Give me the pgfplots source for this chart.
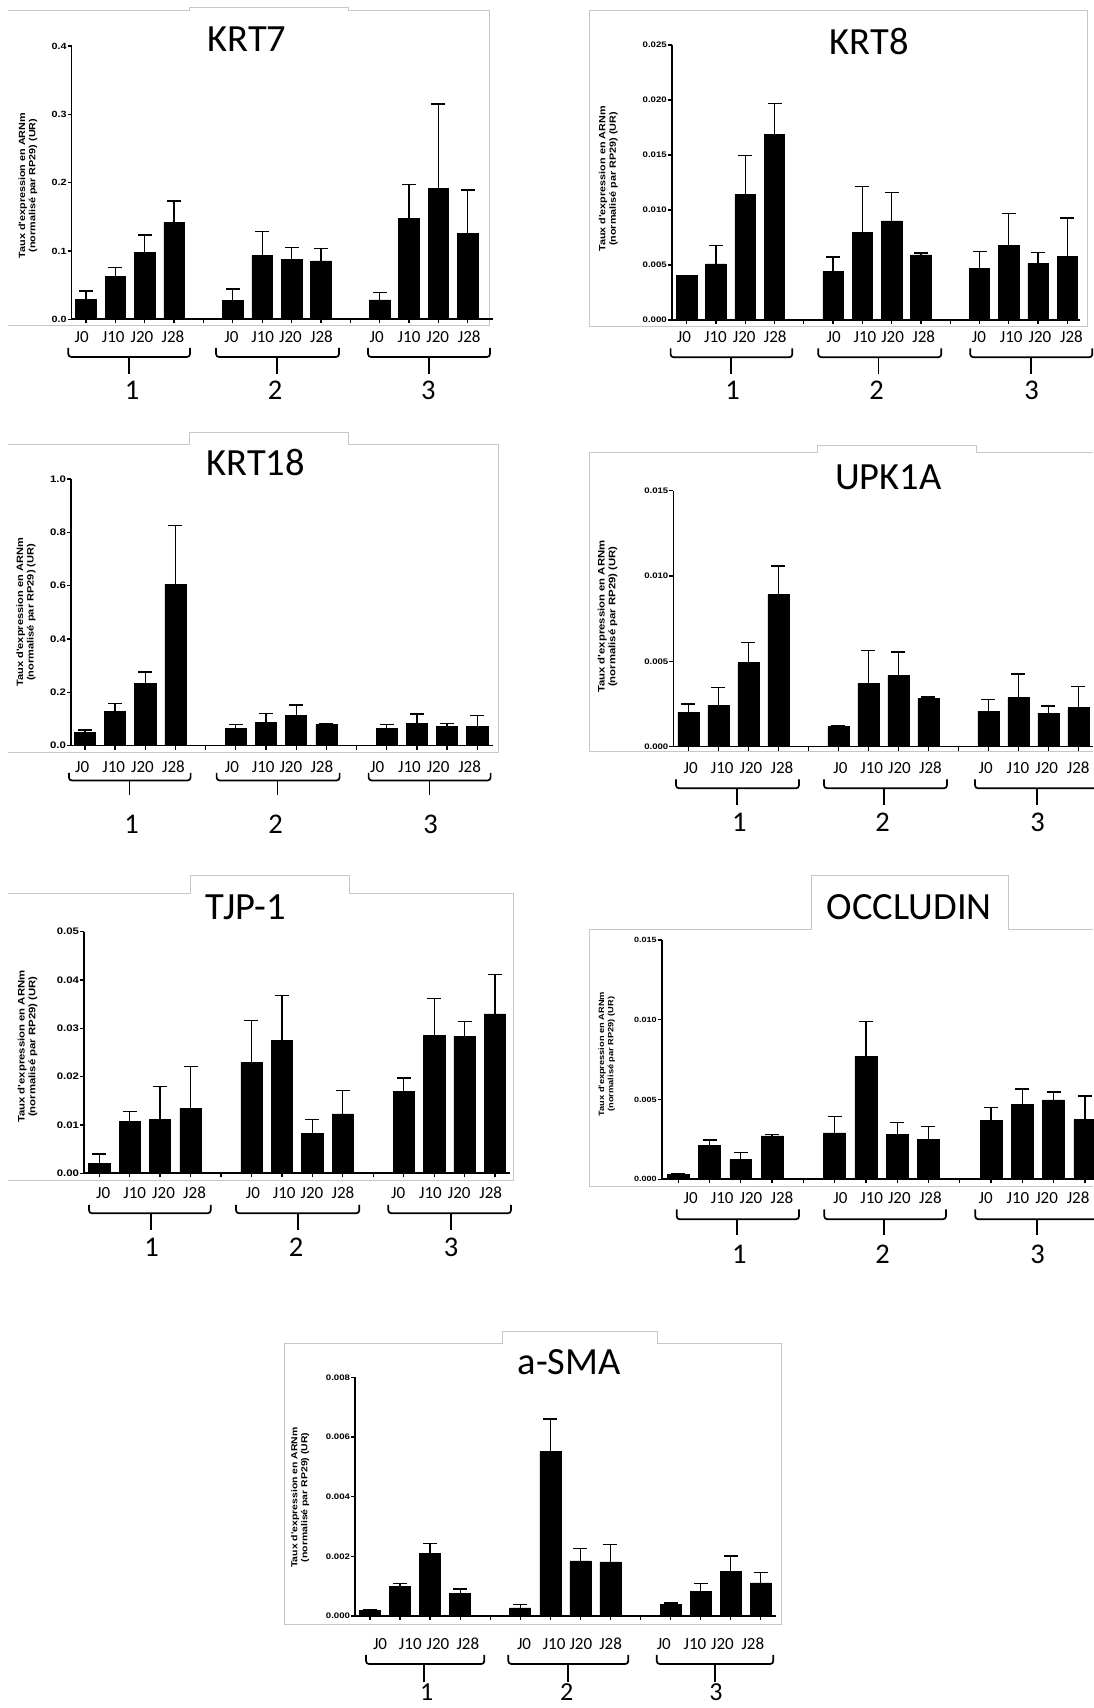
\documentclass[border=0pt]{standalone}
\usepackage{pgfplots}
\pgfplotsset{compat=1.18}
\usepackage{pgfplotstable}
\usepackage{fontspec}
\setmainfont{Carlito}
\newfontfamily\arb{Liberation Sans}[FakeStretch=1.2]

\pgfplotstableread[row sep=\\]{
x y e\\
0 0.0293 0.0122\\
1 0.0629 0.0127\\
2 0.0980 0.0254\\
3 0.1415 0.0317\\
5 0.0273 0.0171\\
6 0.0937 0.0351\\
7 0.0873 0.0181\\
8 0.0854 0.0185\\
10 0.0283 0.0112\\
11 0.1473 0.0503\\
12 0.1912 0.1239\\
13 0.1259 0.0634\\
}\krtseven
\pgfplotstableread[row sep=\\]{
x y e\\
0 0.00403 0\\
1 0.00509 0.00167\\
2 0.01139 0.00355\\
3 0.01685 0.00282\\
5 0.00439 0.00134\\
6 0.00794 0.00421\\
7 0.00900 0.00258\\
8 0.00591 0.00018\\
10 0.00467 0.00154\\
11 0.00679 0.00291\\
12 0.00518 0.00097\\
13 0.00576 0.00351\\
}\krteight
\pgfplotstableread[row sep=\\]{
x y e\\
0 0.050 0.009\\
1 0.129 0.0285\\
2 0.2325 0.0435\\
3 0.604 0.222\\
5 0.065 0.014\\
6 0.086 0.035\\
7 0.114 0.0385\\
8 0.080 0.002\\
10 0.065 0.014\\
11 0.084 0.035\\
12 0.0725 0.0115\\
13 0.0725 0.0415\\
}\krteighteen
\pgfplotstableread[row sep=\\]{
x y e\\
0 0.00201 0.00049\\
1 0.00244 0.00102\\
2 0.00494 0.00117\\
3 0.00890 0.00169\\
5 0.00119 0.00006\\
6 0.00369 0.00194\\
7 0.00418 0.00137\\
8 0.00281 0.00010\\
10 0.00209 0.00066\\
11 0.00289 0.00137\\
12 0.00197 0.00041\\
13 0.00228 0.00123\\
}\upk
\pgfplotstableread[row sep=\\]{
x y e\\
0 0.0020 0.0020\\
1 0.0107 0.0021\\
2 0.0111 0.0068\\
3 0.01345 0.00865\\
5 0.0229 0.0087\\
6 0.02745 0.00935\\
7 0.0082 0.0030\\
8 0.01228 0.00489\\
10 0.01697 0.00275\\
11 0.02848 0.00766\\
12 0.02834 0.00311\\
13 0.03297 0.0082\\
}\tjp
\pgfplotstableread[row sep=\\]{
x y e\\
0 0.00031 0.00007\\
1 0.00211 0.00036\\
2 0.00127 0.00040\\
3 0.00272 0.00010\\
5 0.00291 0.00103\\
6 0.00771 0.00218\\
7 0.00281 0.00073\\
8 0.00252 0.00081\\
10 0.00371 0.00077\\
11 0.00469 0.00097\\
12 0.00498 0.00050\\
13 0.00373 0.00150\\
}\occ
\pgfplotstableread[row sep=\\]{
x y e\\
0 0.00018 0.00003\\
1 0.00100 0.00008\\
2 0.00209 0.00033\\
3 0.00076 0.00014\\
5 0.00027 0.00012\\
6 0.00552 0.00108\\
7 0.00185 0.00042\\
8 0.00181 0.00059\\
10 0.00038 0.00006\\
11 0.00083 0.00027\\
12 0.00149 0.00052\\
13 0.00111 0.00034\\
}\sma

\pgfplotsset{
  panel/.style={
    scale only axis, anchor=south west, clip=false,
    axis lines=left, axis line style={line width=1.6pt,-},
    tick style={black, line width=1.3pt},
    major tick length=4pt, tick align=outside,
    xtick={0,...,13}, xticklabels={},
    ymin=0, scaled y ticks=false,
    yticklabel style={inner sep=0.8pt,
      /pgf/number format/fixed, /pgf/number format/fixed zerofill,
      /pgf/number format/assume math mode=true},
    extra x tick style={major tick length=0pt,
      tick label style={font=\fontsize{17}{18}\selectfont, anchor=base}},
    extra x tick labels={J0,J10,J20,J28,J0,J10,J20,J28,J0,J10,J20,J28},
    ylabel={Taux d'expression en ARNm\\(normalisé par RP29) (UR)},
  },
  mybars/.style={ybar, bar shift=0pt, bar width=0.7, fill=black, draw=black, line width=0.6pt,
    error bars/.cd, y dir=plus, y explicit,
    error bar style={line width=1.3pt, black},
    error mark options={rotate=90, mark size=7pt, line width=1.3pt, black}},
}
\newcommand\Brace[6]{%
  \draw[line width=1.7pt, rounded corners=3pt] (#1,1708-#4) -- (#1,1708-#5) -- (#2,1708-#5) -- (#2,1708-#4);
  \draw[line width=1.7pt] (#3,1708-#5) -- (#3,1708-#6);}
\newcommand\Title[3]{\node[anchor=base, font=\fontsize{38.5}{40}\selectfont] at (#1,1708-#2) {#3};}
\newcommand\Num[3]{\node[anchor=base, inner sep=0pt, font=\fontsize{28.5}{30}\selectfont] at (#1,1708-#2) {#3};}
\newcommand\NumS[3]{\node[anchor=base, inner sep=0pt, font=\fontsize{26}{27}\selectfont] at (#1,1708-#2) {#3};}

\begin{document}
\begin{tikzpicture}[x=1pt,y=1pt]
\useasboundingbox (0,0) rectangle (1093,1708);
% light grey frames
\begin{scope}[black!22, line width=0.9pt]
\draw (8,1708-10) -- (189,1708-10) -- (189,1708-7) -- (348,1708-7) -- (348,1708-10) -- (489,1708-10) -- (489,1708-325) -- (8,1708-325);
\draw (589,1708-10.7) rectangle (1087,1708-326);
\draw (8,1708-444) -- (189,1708-444) -- (189,1708-432.7) -- (348,1708-432.7) -- (348,1708-444) -- (498,1708-444) -- (498,1708-752) -- (8,1708-752);
\draw (1093,1708-452.7) -- (976.7,1708-452.7) -- (976.7,1708-445) -- (817,1708-445) -- (817,1708-452.7) -- (589,1708-452.7) -- (589,1708-751.7) -- (1093,1708-751.7);
\draw (8,1708-893.3) -- (190.7,1708-893.3) -- (190.7,1708-875.7) -- (349,1708-875.7) -- (349,1708-893.3) -- (513,1708-893.3) -- (513,1708-1180) -- (8,1708-1180);
\draw (1093,1708-929.3) -- (1008.3,1708-929.3) -- (1008.3,1708-875) -- (811.7,1708-875) -- (811.7,1708-929.3) -- (589,1708-929.3) -- (589,1708-1186) -- (1093,1708-1186);
\draw (284,1708-1343.3) -- (502.7,1708-1343.3) -- (502.7,1708-1331) -- (657.3,1708-1331) -- (657.3,1708-1343.3) -- (781.7,1708-1343.3) -- (781.7,1708-1624) -- (284,1708-1624) -- cycle;
\end{scope}

% KRT7
\begin{axis}[panel, at={(71.7pt,1388.7pt)}, width=421.3pt, height=273.3pt,
  xmin=-0.487, xmax=13.86, ymax=0.4, ytick={0,0.1,0.2,0.3,0.4},
  yticklabel style={font=\arb\bfseries\fontsize{9}{10}\selectfont, /pgf/number format/precision=1},
  extra x ticks={-0.146,0.926,1.907,2.963,4.952,6.018,6.962,8.018,9.901,11.001,11.979,13.052},
  extra x tick style={tick label style={yshift=-23pt}},
  every axis y label/.style={at={(axis description cs:0,0.5)}, xshift=-43.7pt, yshift=-2.9pt, rotate=90, anchor=center, align=center, font=\arb\bfseries\fontsize{9}{10.3}\selectfont}]
\addplot[mybars] table[x=x,y=y,y error=e]{\krtseven};
\end{axis}

% KRT8
\begin{axis}[panel, at={(671.7pt,1388pt)}, width=408.3pt, height=275pt,
  xmin=-0.51, xmax=13.43, ymax=0.025, ytick={0,0.005,0.01,0.015,0.02,0.025},
  yticklabel style={font=\arb\bfseries\fontsize{8}{9}\selectfont, /pgf/number format/precision=3},
  extra x ticks={-0.092,0.983,1.967,3.025,5.019,6.087,7.033,8.092,9.980,11.082,12.062,13.138},
  extra x tick style={tick label style={yshift=-22.3pt}},
  every axis y label/.style={at={(axis description cs:0,0.5)}, xshift=-63.4pt, yshift=3.5pt, rotate=90, anchor=center, align=center, font=\arb\bfseries\fontsize{9}{10.3}\selectfont}]
\addplot[mybars] table[x=x,y=y,y error=e]{\krteight};
\end{axis}

% KRT18
\begin{axis}[panel, at={(71pt,962.3pt)}, width=422.3pt, height=266.7pt,
  xmin=-0.46, xmax=13.53, ymax=1, ytick={0,0.2,0.4,0.6,0.8,1},
  yticklabel style={font=\arb\bfseries\fontsize{9.5}{10}\selectfont, /pgf/number format/precision=1},
  extra x ticks={-0.089,0.954,1.908,2.935,4.869,5.906,6.823,7.850,9.682,10.752,11.702,12.746},
  extra x tick style={tick label style={yshift=-26.6pt}},
  every axis y label/.style={at={(axis description cs:0,0.5)}, xshift=-45pt, yshift=0pt, rotate=90, anchor=center, align=center, font=\arb\bfseries\fontsize{9.2}{10.5}\selectfont}]
\addplot[mybars] table[x=x,y=y,y error=e]{\krteighteen};
\end{axis}

% UPK1A
\begin{axis}[panel, at={(673.3pt,961.3pt)}, width=419.7pt, height=256pt,
  xmin=-0.5, xmax=13.49, ymax=0.015, ytick={0,0.005,0.01,0.015},
  yticklabel style={font=\arb\bfseries\fontsize{8}{9}\selectfont, /pgf/number format/precision=3},
  extra x ticks={0.08,1.13,2.09,3.123,5.07,6.113,7.037,8.07,9.913,10.99,11.947,12.997},
  extra x tick style={tick label style={yshift=-26.6pt}},
  every axis y label/.style={at={(axis description cs:0,0.5)}, xshift=-65.8pt, yshift=2pt, rotate=90, anchor=center, align=center, font=\arb\bfseries\fontsize{9.45}{10.8}\selectfont}]
\addplot[mybars] table[x=x,y=y,y error=e]{\upk};
\end{axis}

% TJP-1
\begin{axis}[panel, at={(84pt,534.7pt)}, width=426pt, height=241.6pt,
  xmin=-0.5, xmax=13.49, ymax=0.05, ytick={0,0.01,0.02,0.03,0.04,0.05},
  yticklabel style={font=\arb\bfseries\fontsize{9.5}{10}\selectfont, /pgf/number format/precision=2},
  extra x ticks={0.131,1.166,2.112,3.13,5.048,6.076,6.985,8.003,9.819,10.88,11.823,12.857},
  extra x tick style={tick label style={yshift=-25pt}},
  every axis y label/.style={at={(axis description cs:0,0.5)}, xshift=-56.5pt, yshift=5.8pt, rotate=90, anchor=center, align=center, font=\arb\bfseries\fontsize{9.45}{10.8}\selectfont}]
\addplot[mybars] table[x=x,y=y,y error=e]{\tjp};
\end{axis}

% OCCLUDIN
\begin{axis}[panel, at={(661.7pt,528.7pt)}, width=431.3pt, height=239.3pt,
  xmin=-0.53, xmax=13.26, ymax=0.015, ytick={0,0.005,0.01,0.015},
  yticklabel style={font=\arb\bfseries\fontsize{7.5}{8.5}\selectfont, /pgf/number format/precision=3},
  extra x ticks={0.396,1.403,2.324,3.315,5.182,6.183,7.068,8.06,9.827,10.86,11.777,12.784},
  extra x tick style={tick label style={yshift=-24pt}},
  every axis y label/.style={at={(axis description cs:0,0.5)}, xshift=-55pt, yshift=5.5pt, rotate=90, anchor=center, align=center, font=\arb\bfseries\fontsize{7.7}{9.2}\selectfont}]
\addplot[mybars] table[x=x,y=y,y error=e]{\occ};
\end{axis}

% a-SMA
\begin{axis}[panel, at={(355pt,92pt)}, width=421pt, height=238.7pt,
  xmin=-0.5, xmax=13.51, ymax=0.008, ytick={0,0.002,0.004,0.006,0.008},
  yticklabel style={font=\arb\bfseries\fontsize{8}{9}\selectfont, /pgf/number format/precision=3},
  extra x ticks={0.333,1.341,2.263,3.255,5.125,6.126,7.015,8.007,9.777,10.812,11.730,12.739},
  extra x tick style={tick label style={yshift=-33.3pt}},
  every axis y label/.style={at={(axis description cs:0,0.5)}, xshift=-55pt, yshift=-0.8pt, rotate=90, anchor=center, align=center, font=\arb\bfseries\fontsize{8.7}{10}\selectfont}]
\addplot[mybars] table[x=x,y=y,y error=e]{\sma};
\end{axis}

% titles
\Title{247}{51.7}{KRT7}
\Title{869.2}{55}{KRT8}
\Title{255.8}{476}{KRT18}
\Title{888.3}{490}{UPK1A}
\Title{245.8}{920}{TJP-1}
\Title{909.2}{920}{OCCLUDIN}
\Title{569.2}{1375}{a-SMA}

% braces and group numbers
\Brace{68.3}{190}{129}{348}{357}{374}
\Brace{216}{339}{277}{348}{357}{374}
\Brace{368}{490}{429}{348}{357}{374}
\Num{132}{400}{1}\Num{275}{400}{2}\Num{428.3}{400}{3}

\Brace{670.6}{792.3}{731.3}{348.3}{357.3}{374}
\Brace{818.3}{941.3}{878.5}{348.3}{357.3}{374}
\Brace{970.3}{1092.3}{1031.3}{348.3}{357.3}{374}
\Num{732.7}{399.3}{1}\Num{876.7}{399.3}{2}\Num{1031.7}{399.3}{3}

\Brace{68.9}{190.6}{129.6}{773}{780.5}{795.5}
\Brace{216.6}{339.6}{277.6}{773}{780.5}{795.5}
\Brace{368.6}{490.6}{429.6}{773}{780.5}{795.5}
\Num{131.7}{833.3}{1}\Num{275.7}{833.3}{2}\Num{430.7}{833.3}{3}

\Brace{676}{799}{737}{779.3}{788.3}{805}
\Brace{824}{947}{884}{779.3}{788.3}{805}
\Brace{975}{1098}{1036.7}{779.3}{788.3}{805}
\Num{739.3}{831.7}{1}\Num{882.7}{831.7}{2}\Num{1037.7}{831.7}{3}

\Brace{89}{210.7}{150.7}{1205}{1213.3}{1230}
\Brace{236}{359.3}{297.7}{1205}{1213.3}{1230}
\Brace{388.3}{511}{450.7}{1205}{1213.3}{1230}
\Num{151.7}{1256.7}{1}\Num{296}{1256.7}{2}\Num{451}{1256.7}{3}

\Brace{676.7}{799}{737.3}{1209.3}{1219.3}{1235}
\Brace{824.3}{946}{884}{1209.3}{1219.3}{1235}
\Brace{975.3}{1098}{1036.7}{1209.3}{1219.3}{1235}
\Num{739.3}{1263.3}{1}\Num{882.7}{1263.3}{2}\Num{1037.7}{1263.3}{3}

\Brace{366}{484.3}{424.3}{1655}{1664}{1681.7}
\Brace{508.3}{628.3}{568.3}{1655}{1664}{1681.7}
\Brace{656.7}{773.3}{715}{1655}{1664}{1681.7}
\NumS{426.7}{1701}{1}\NumS{566.7}{1701}{2}\NumS{716}{1701}{3}
\end{tikzpicture}
\end{document}
